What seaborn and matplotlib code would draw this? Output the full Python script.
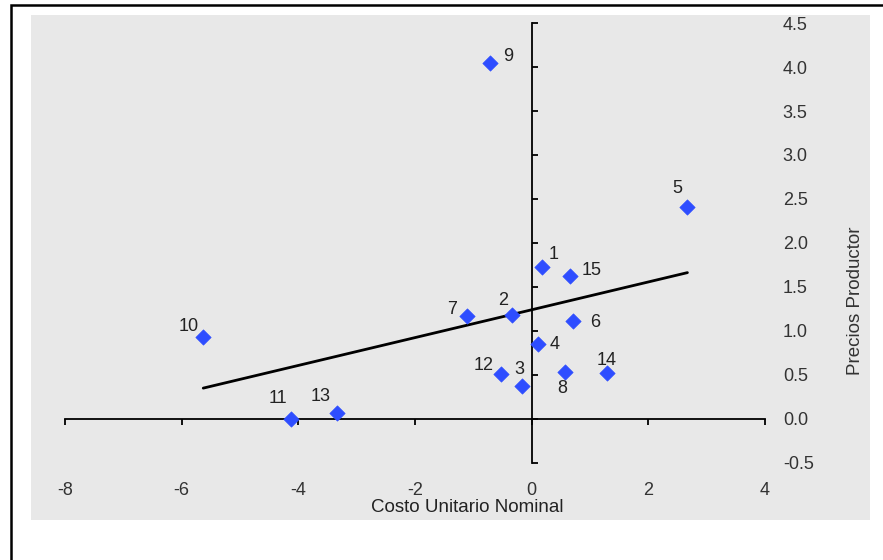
import numpy as np
import pandas as pd
import matplotlib
matplotlib.use("Agg")
import matplotlib.pyplot as plt
from matplotlib.patches import Rectangle
import seaborn as sns

# data
ids = [1, 2, 3, 4, 5, 6, 7, 8, 9, 10, 11, 12, 13, 14, 15]
costo = [0.17, -0.33, -0.16, 0.10, 2.67, 0.71, -1.11, 0.57, -0.71, -5.63, -4.13, -0.53, -3.34, 1.29, 0.66]
precios = [1.73, 1.18, 0.38, 0.85, 2.41, 1.11, 1.17, 0.53, 4.05, 0.93, 0.00, 0.51, 0.07, 0.52, 1.63]
xticks = [-8, -6, -4, -2, 0, 2, 4]
yticks = [-0.5, 0.0, 0.5, 1.0, 1.5, 2.0, 2.5, 3.0, 3.5, 4.0, 4.5]

# label offsets (points) for each point number
offsets = {1: (8.6, 8.6), 2: (-6.5, 10.8), 3: (-2.2, 11.5), 4: (12.2, 0), 5: (-7.2, 13),
           6: (15.8, -0.7), 7: (-10.8, 5), 8: (-2.2, -11.5), 9: (13, 4.3), 10: (-10.8, 7.9),
           11: (-9.4, 14.4), 12: (-12.2, 6.5), 13: (-11.5, 11.5), 14: (0, 9.4), 15: (15.8, 3.6)}

df = pd.DataFrame({"id": ids, "costo": costo, "precios": precios})

sns.set_theme(style="white")
plt.rcParams['font.family'] = ['Liberation Sans', 'DejaVu Sans']
plt.rcParams['axes.unicode_minus'] = False

fig = plt.figure(figsize=(8.83, 5.6), dpi=100)
ax = fig.add_axes([31 / 883, 1 - 520 / 560, 839 / 883, 505 / 560])
ax.set_facecolor('#e8e8e8')

sns.regplot(data=df, x="costo", y="precios", scatter=False, ci=None, truncate=True,
            color="black", line_kws=dict(lw=2.0, zorder=2), ax=ax)
sns.scatterplot(data=df, x="costo", y="precios", marker="D", s=62, color="#2e4dff",
                edgecolor="#2e4dff", linewidth=0.4, zorder=3, ax=ax, legend=False)

for i, x, y in zip(ids, costo, precios):
    ax.annotate(str(i), (x, y), xytext=offsets[i], textcoords="offset points",
                ha="center", va="center", fontsize=13, color="#222222")

ax.set_xlim(-8.583, 5.8)
ax.set_ylim(-1.148, 4.591)

# axes crossing at the origin
for s in ["top", "right"]:
    ax.spines[s].set_visible(False)
ax.spines["left"].set_position(("data", 0))
ax.spines["bottom"].set_position(("data", 0))
ax.spines["left"].set_bounds(yticks[0], yticks[-1])
ax.spines["bottom"].set_bounds(xticks[0], xticks[-1])
for s in ["left", "bottom"]:
    ax.spines[s].set_color("black")
    ax.spines[s].set_linewidth(1.3)
ax.set_xticks(xticks)
ax.set_yticks(yticks)
ax.tick_params(axis="x", bottom=True, direction="out", length=4, width=1.3, color="black", labelbottom=False)
ax.tick_params(axis="y", left=True, direction="in", length=4, width=1.3, color="black", labelleft=False)

# tick labels along the bottom and right of the plot area
secy = ax.secondary_yaxis(0.8927)
secy.set_yticks(yticks)
secy.set_yticklabels([f"{v:.1f}" for v in yticks])
secy.tick_params(length=0, pad=2, labelsize=13, labelcolor="#333333")
secy.spines[:].set_visible(False)

secx = ax.secondary_xaxis(0.078)
secx.set_xticks(xticks)
secx.set_xticklabels([str(v) for v in xticks])
secx.tick_params(length=0, pad=1, labelsize=13, labelcolor="#333333")
secx.spines[:].set_visible(False)

ax.set_xlabel("Costo Unitario Nominal", fontsize=13.5, color="#222222")
ax.xaxis.label.set_va("center")
ax.xaxis.set_label_coords((467 - 31) / 839, (520 - 508) / 505)
ax.set_ylabel("Precios Productor", fontsize=13.5, color="#333333")
ax.yaxis.label.set_va("center")
ax.yaxis.set_label_coords((855 - 31) / 839, (520 - 301) / 505)

# outer frame
fig.patches.append(Rectangle((10.5 / 883, -0.02), 1.05, 1 - 4.5 / 560 + 0.02, transform=fig.transFigure,
                             fill=False, edgecolor="black", lw=1.8))

fig.savefig("out.png", dpi=100)
